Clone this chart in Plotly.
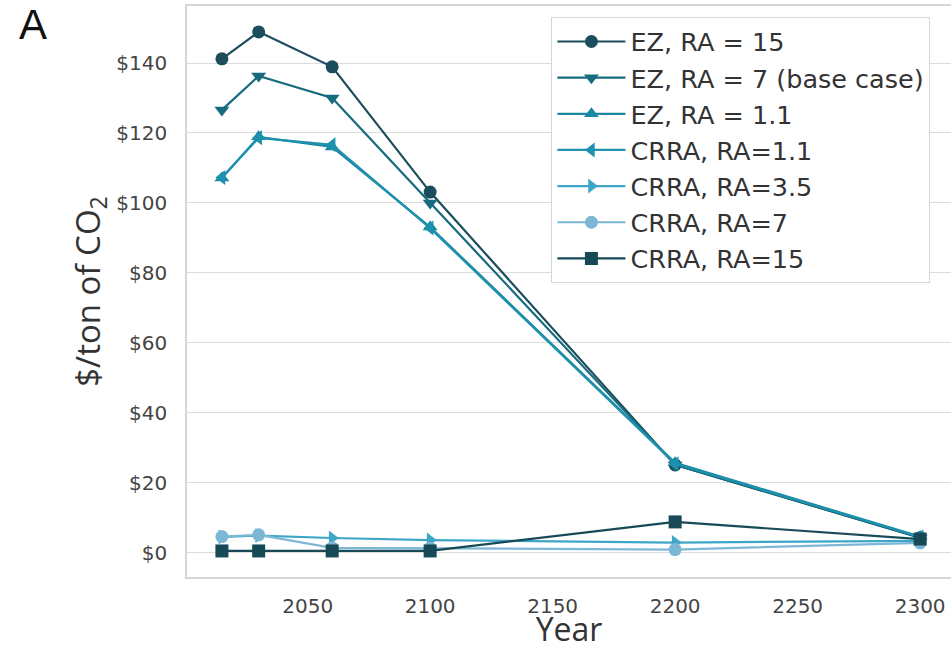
import plotly.graph_objects as go

# Years at which the carbon price is reported
years = [2015, 2030, 2060, 2100, 2200, 2300]

# Optimal carbon price ($/ton CO2) by preference specification
ez_ra15 = [141.2, 148.9, 138.9, 103.1, 25.1, 4.3]
ez_ra7 = [126.6, 136.3, 130.0, 100.0, 25.1, 4.3]
ez_ra1_1 = [107.1, 118.9, 116.0, 93.1, 25.7, 4.6]
crra_ra1_1 = [107.3, 118.6, 116.6, 92.8, 25.4, 4.5]
crra_ra3_5 = [4.5, 4.9, 4.2, 3.6, 2.9, 3.4]
crra_ra7 = [4.6, 5.1, 1.4, 1.3, 0.9, 2.8]
crra_ra15 = [0.5, 0.5, 0.5, 0.5, 8.8, 3.9]

series_names = [
    "EZ, RA = 15",
    "EZ, RA = 7 (base case)",
    "EZ, RA = 1.1",
    "CRRA, RA=1.1",
    "CRRA, RA=3.5",
    "CRRA, RA=7",
    "CRRA, RA=15",
]
series_values = [ez_ra15, ez_ra7, ez_ra1_1, crra_ra1_1, crra_ra3_5, crra_ra7, crra_ra15]
series_colors = ["#1b4d5c", "#176b7e", "#1a88a0", "#1d91ad", "#3ea6c6", "#7db7d6", "#184957"]
series_symbols = ["circle", "triangle-down", "triangle-up", "triangle-left",
                  "triangle-right", "circle", "square"]

y_ticks = [0, 20, 40, 60, 80, 100, 120, 140]
y_tick_labels = ["$0", "$20", "$40", "$60", "$80", "$100", "$120", "$140"]
x_ticks = [2050, 2100, 2150, 2200, 2250, 2300]

fig = go.Figure()
for i, (name, vals, col, sym) in enumerate(zip(series_names, series_values,
                                                series_colors, series_symbols)):
    fig.add_trace(go.Scatter(
        x=years, y=vals, name=name, mode="lines+markers",
        line=dict(color=col, width=2.2),
        marker=dict(symbol=sym, size=13, color=col, line=dict(width=0)),
        legendgroup=f"g{i}",
    ))

fig.update_layout(
    width=951, height=650,
    margin=dict(l=187, r=0, t=6, b=73),
    paper_bgcolor="white", plot_bgcolor="white",
    font=dict(family="DejaVu Sans", color="#444"),
    showlegend=True,
    legend=dict(
        x=0.477, y=0.98, xanchor="left", yanchor="top",
        bgcolor="rgba(255,255,255,0.9)", bordercolor="#d6d6d6", borderwidth=1,
        font=dict(family="DejaVu Sans", size=25.5, color="#333"),
        tracegroupgap=0, itemwidth=68,
    ),
    xaxis=dict(
        range=[2000.75, 2312.6], tickvals=x_ticks,
        showgrid=False, zeroline=False,
        showline=True, linecolor="#d6d6d6", linewidth=1.5, mirror=True,
        ticks="outside", ticklen=10, tickcolor="rgba(0,0,0,0)",
        tickfont=dict(size=20, color="#444"),
        title=dict(text="Year", font=dict(family="Open Sans", size=32, color="#333"), standoff=12),
        automargin=False,
    ),
    yaxis=dict(
        range=[-6.95, 156.3], tickvals=y_ticks, ticktext=y_tick_labels,
        showgrid=True, gridcolor="#dcdcdc", gridwidth=1.3, zeroline=False,
        showline=True, linecolor="#d6d6d6", linewidth=1.5,
        ticks="outside", ticklen=14, tickcolor="rgba(0,0,0,0)",
        tickfont=dict(size=20, color="#444"),
        title=dict(text="$/ton of CO<sub>2</sub>", font=dict(family="Open Sans", size=33, color="#333"), standoff=6),
        automargin=False,
    ),
)

fig.add_annotation(
    text="A", xref="paper", yref="paper", x=-0.2016, y=0.967,
    xanchor="center", yanchor="middle", showarrow=False,
    font=dict(family="Liberation Sans", size=42, color="#111"),
)

fig.write_html("out.html")
